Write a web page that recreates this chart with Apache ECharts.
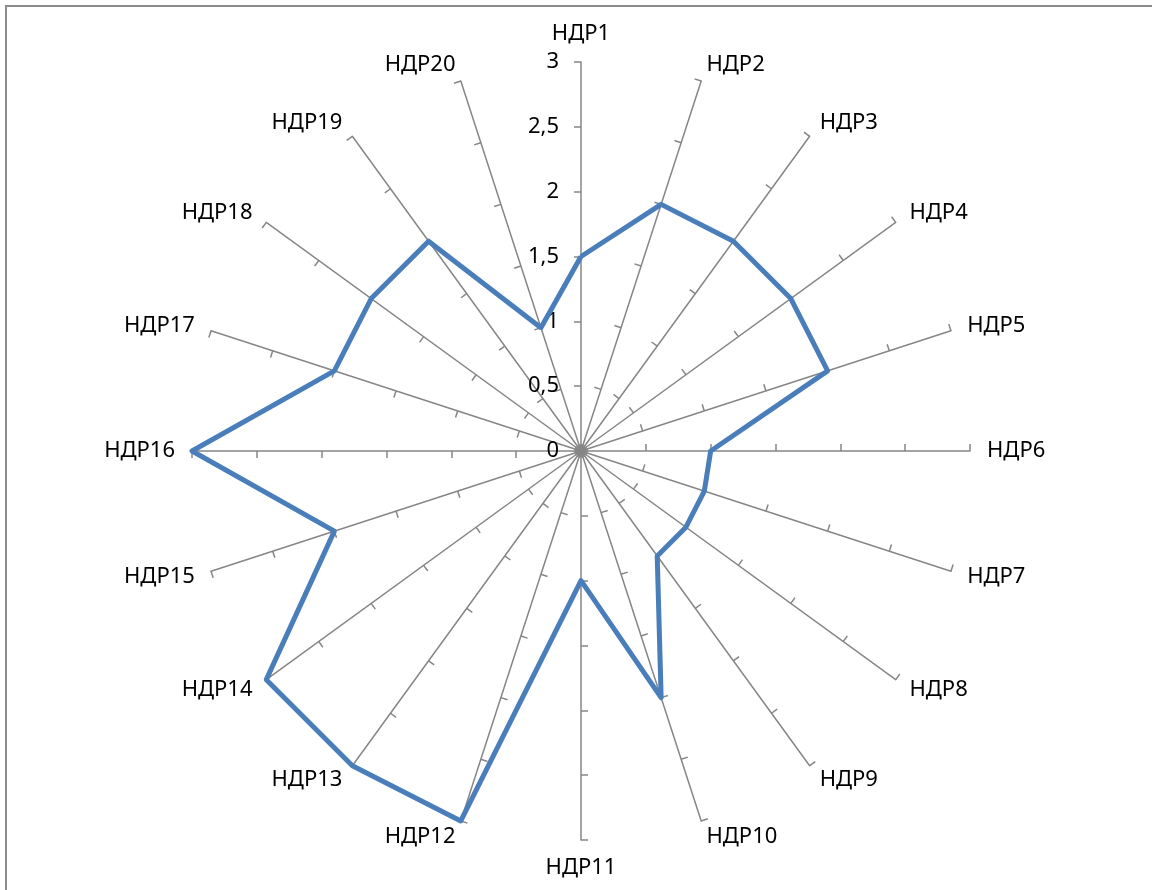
<!DOCTYPE html>
<html><head><meta charset="utf-8">
<style>html,body{margin:0;padding:0;background:#fff}#c{width:1152px;height:890px}</style>
<script src="https://cdn.jsdelivr.net/npm/echarts@6/dist/echarts.min.js"></script>
</head><body><div id="c"></div>
<script>
const categories = ['НДР1','НДР2','НДР3','НДР4','НДР5','НДР6','НДР7','НДР8','НДР9','НДР10','НДР11','НДР12','НДР13','НДР14','НДР15','НДР16','НДР17','НДР18','НДР19','НДР20'];
const values = [1.5,2,2,2,2,1,1,1,1,2,1,3,3,3,2,3,2,2,2,1];
const axisMin = 0, axisMax = 3, axisStep = 0.5;

// ECharts radar lays indicators counter-clockwise; reorder so they read clockwise.
const order = [0].concat(categories.map((_, i) => i).slice(1).reverse());
const cats = order.map(i => categories[i]);
const vals = order.map(i => values[i]);

const chart = echarts.init(document.getElementById('c'));
const font = '"Noto Sans", "Liberation Sans", sans-serif';
chart.setOption({
  animation: false,
  graphic: [{type:'rect', shape:{x:6,y:6,width:1200,height:950}, style:{fill:null, stroke:'#8c8c8c', lineWidth:2}, silent:true}],
  radar: {
    center: [581, 451],
    radius: 389,
    startAngle: 90,
    splitNumber: (axisMax-axisMin)/axisStep,
    shape: 'polygon',
    nameGap: 17,
    axisName: {color:'#000', fontFamily: font, fontSize: 22},
    axisLine: {lineStyle:{color:'#868686', width:1.5}},
    axisTick: {show:true, length:7, lineStyle:{color:'#868686', width:1.5}},
    axisLabel: {show:false},
    splitLine: {show:false},
    splitArea: {show:false},
    indicator: cats.map((n,i)=>{
      const o = {name:n, min:axisMin, max:axisMax};
      if (i===0) o.axisLabel = {show:true, color:'#000', fontFamily:font, fontSize:22, margin:22,
        formatter: v => String(v).replace('.', ',')};
      return o;
    })
  },
  series: [{
    type: 'radar',
    symbol: 'none',
    lineStyle: {color:'#4A7EBB', width:5},
    data: [{value: vals}]
  }]
});
</script></body></html>
